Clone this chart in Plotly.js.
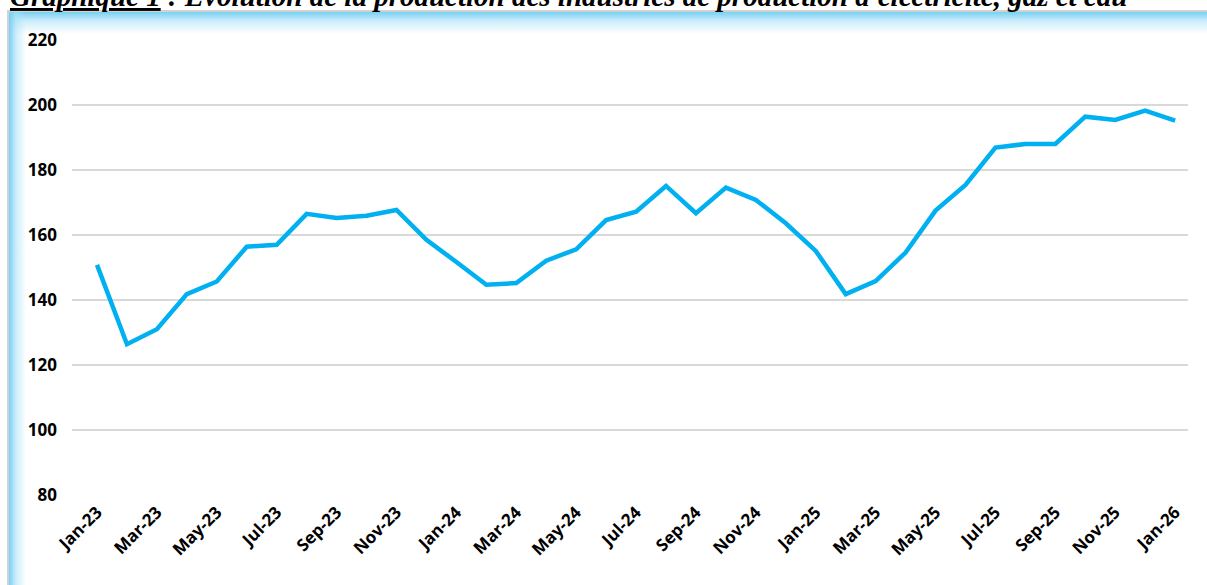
<!DOCTYPE html>
<html>
<head>
<meta charset="utf-8">
<script src="https://cdn.plot.ly/plotly-3.0.1.min.js"></script>
<style>
  html, body { margin: 0; padding: 0; background: #ffffff; }
  #wrap { position: relative; width: 1207px; height: 585px; overflow: hidden; background: #ffffff; }
  #frame {
    position: absolute; left: 7px; top: 10px; right: 0; bottom: 0;
    border-top: 2px solid #d2d2d2; border-left: 2px solid #d2d2d2;
    background:
      linear-gradient(to right, rgba(120,208,242,1) 0px, rgba(170,226,248,0.6) 7px, rgba(255,255,255,0) 17px),
      linear-gradient(to bottom, rgba(120,208,242,1) 0px, rgba(170,226,248,0.6) 9px, rgba(255,255,255,0) 22px),
      #ffffff;
  }
  #chart { position: absolute; left: 0; top: 0; width: 1207px; height: 585px; }
</style>
</head>
<body>
<div id="wrap">
  <div id="frame"></div>
  <div id="chart"></div>
</div>
<script>
const months = [
  "Jan-23","Feb-23","Mar-23","Apr-23","May-23","Jun-23","Jul-23","Aug-23","Sep-23","Oct-23","Nov-23","Dec-23",
  "Jan-24","Feb-24","Mar-24","Apr-24","May-24","Jun-24","Jul-24","Aug-24","Sep-24","Oct-24","Nov-24","Dec-24",
  "Jan-25","Feb-25","Mar-25","Apr-25","May-25","Jun-25","Jul-25","Aug-25","Sep-25","Oct-25","Nov-25","Dec-25",
  "Jan-26"
];
const production = [
  150.8, 126.4, 131.0, 141.8, 145.7, 156.4, 157.0, 166.5, 165.2, 165.9, 167.7, 158.5,
  151.7, 144.7, 145.2, 152.1, 155.6, 164.6, 167.2, 175.1, 166.7, 174.6, 170.8, 163.6,
  155.1, 141.8, 145.8, 154.6, 167.5, 175.4, 186.9, 188.0, 188.0, 196.4, 195.4, 198.3,
  195.2
];
const tickLabels = ["Jan-23","Mar-23","May-23","Jul-23","Sep-23","Nov-23","Jan-24","Mar-24","May-24","Jul-24","Sep-24","Nov-24","Jan-25","Mar-25","May-25","Jul-25","Sep-25","Nov-25","Jan-26"];
const yTicks = [80, 100, 120, 140, 160, 180, 200, 220];
const titleText = "<u>Graphique 1</u> : Évolution de la production des industries de production d'électricité, gaz et eau";

const trace = {
  x: months,
  y: production,
  type: "scatter",
  mode: "lines",
  line: { color: "#00b0f0", width: 4.5, shape: "linear" },
  hoverinfo: "x+y"
};

const layout = {
  width: 1207,
  height: 585,
  margin: { l: 72, r: 19, t: 40, b: 90 },
  paper_bgcolor: "rgba(0,0,0,0)",
  plot_bgcolor: "rgba(0,0,0,0)",
  showlegend: false,
  xaxis: {
    type: "category",
    categoryorder: "array",
    categoryarray: months,
    range: [-0.835, 36.43],
    tickmode: "array",
    tickvals: tickLabels,
    ticktext: tickLabels,
    tickangle: -45,
    showgrid: false,
    zeroline: false,
    showline: false,
    ticks: "",
    ticklabelstandoff: 3,
    tickfont: { family: "Open Sans", size: 17, color: "#000000", weight: "bold" },
    fixedrange: true
  },
  yaxis: {
    range: [80, 220],
    tickmode: "array",
    tickvals: yTicks,
    ticktext: yTicks.map(String),
    showgrid: true,
    gridcolor: "#d9d9d9",
    gridwidth: 1.5,
    zeroline: false,
    showline: false,
    ticks: "",
    ticklabelstandoff: 14,
    tickfont: { family: "Open Sans", size: 17, color: "#000000", weight: "bold" },
    fixedrange: true
  },
  annotations: [{
    text: "<b><i>" + titleText + "</i></b>",
    xref: "paper", yref: "paper",
    x: (8 - 72) / (1207 - 72 - 19),
    xanchor: "left",
    y: 1 + 40 / (585 - 40 - 90),
    yanchor: "middle",
    yshift: 4,
    showarrow: false,
    font: { family: "Liberation Serif", size: 29, color: "#000000" }
  }]
};

Plotly.newPlot("chart", [trace], layout, { displayModeBar: false, staticPlot: true });
</script>
</body>
</html>
